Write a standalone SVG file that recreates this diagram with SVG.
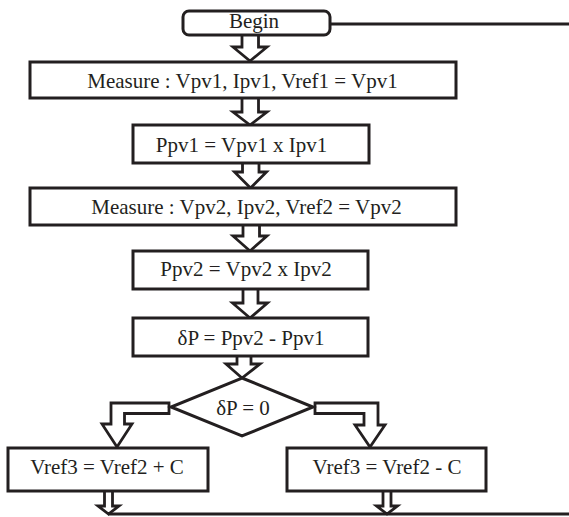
<svg xmlns="http://www.w3.org/2000/svg" width="569" height="517" viewBox="0 0 569 517">
<style>
.box{fill:#fff;stroke:#231f20;stroke-width:3}
.arr{fill:#fff;stroke:#231f20;stroke-width:2.8;stroke-linejoin:miter}
.ln{fill:none;stroke:#231f20;stroke-width:3}
text{font-family:"Liberation Serif","Times New Roman",serif;font-size:21px;fill:#231f20;text-anchor:middle}
</style>
<rect width="569" height="517" fill="#fff"/>
<g id="connectors">
<path class="ln" d="M330,24 H569"/>
<path class="arr" d="M242,35 V47 H233 L250,61 L267,47 H258.5 V35"/>
<path class="arr" d="M242,98 V112 H233 L250,125 L267,112 H258.5 V98"/>
<path class="arr" d="M242.5,163 V172 H234.5 L250.5,188 L266.5,172 H259 V163"/>
<path class="arr" d="M243,225 V236 H233 L250,251 L267,236 H259.5 V225"/>
<path class="arr" d="M243,289 V303 H232.5 L250,318 L267.5,303 H258 V289"/>
<path class="arr" d="M237,356 V364 H226 L242,378 L260,364 H251 V356"/>
<path class="arr" d="M169,403 H111 V424 H102 L117,447 L132,424 H124.5 V413.5 H169 Z"/>
<path class="arr" d="M315,403 H378 V425 H385 L370,447 L355,425 H364 V413.5 H315 Z"/>
<path class="arr" d="M104.5,491 V506 H98 L108.5,514 L119,506 H112.5 V491"/>
<path class="arr" d="M383,491 V506 H376.5 L387,514 L397.5,506 H391 V491"/>
<path class="ln" d="M108,514 H569"/>
</g>
<g id="begin">
<rect class="box" x="183" y="11" width="147" height="24" rx="6"/>
<text x="254" y="28">Begin</text>
</g>
<g id="measure1">
<rect class="box" x="30" y="62" width="426" height="36"/>
<text x="242.5" y="88">Measure : Vpv1, Ipv1, Vref1 = Vpv1</text>
</g>
<g id="ppv1">
<rect class="box" x="133" y="125" width="236" height="38"/>
<text x="241.5" y="151.5">Ppv1 = Vpv1 x Ipv1</text>
</g>
<g id="measure2">
<rect class="box" x="30" y="188" width="426" height="37"/>
<text x="246.5" y="213.5">Measure : Vpv2, Ipv2, Vref2 = Vpv2</text>
</g>
<g id="ppv2">
<rect class="box" x="133" y="251" width="235" height="38"/>
<text x="246" y="276">Ppv2 = Vpv2 x Ipv2</text>
</g>
<g id="deltaP">
<rect class="box" x="133" y="318" width="235" height="38"/>
<text x="251" y="345">δP = Ppv2 - Ppv1</text>
</g>
<g id="decision">
<polygon class="box" points="242,378 313,407 242,436 171,407"/>
<text x="243" y="414.5">δP = 0</text>
</g>
<g id="plus">
<rect class="box" x="8" y="448" width="200" height="43"/>
<text x="107" y="474">Vref3 = Vref2 + C</text>
</g>
<g id="minus">
<rect class="box" x="287" y="448" width="199" height="43"/>
<text x="387" y="474">Vref3 = Vref2 - C</text>
</g>
</svg>
